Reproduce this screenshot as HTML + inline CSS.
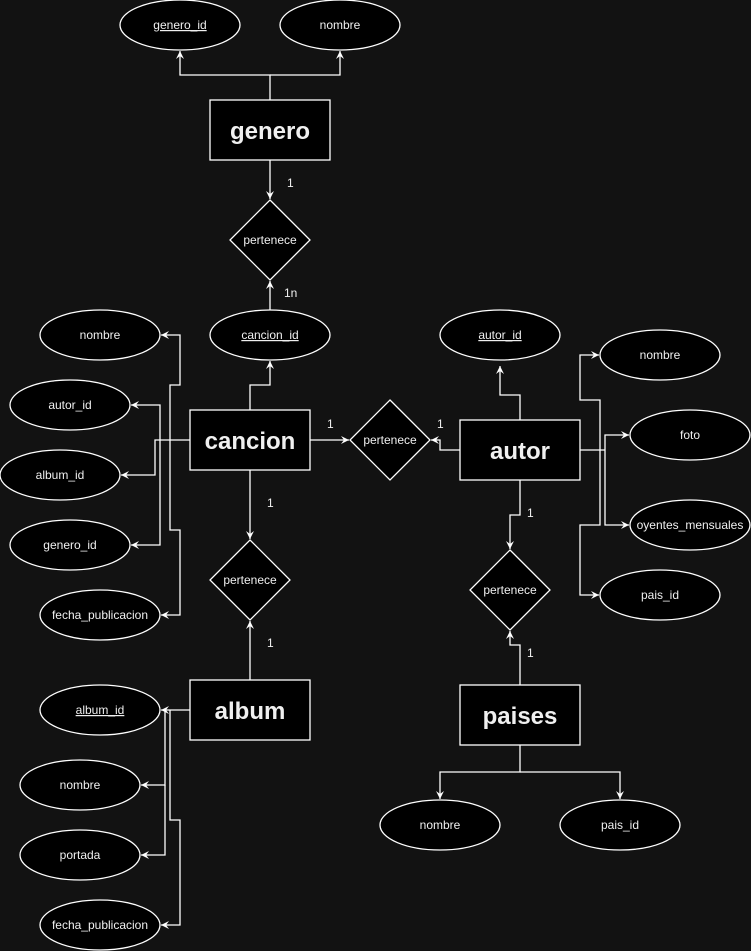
<!DOCTYPE html>
<html><head><meta charset="utf-8"><style>
html,body{margin:0;padding:0;background:#121212}
svg{display:block}
text{font-family:"Liberation Sans",sans-serif;fill:#f0f0f0}
</style></head><body>
<svg width="751" height="951" viewBox="0 0 751 951">
<defs><marker id="a" markerWidth="10" markerHeight="10" refX="8" refY="5" orient="auto" markerUnits="userSpaceOnUse"><path d="M0,1 L8,5 L0,9 L3,5 Z" fill="#fff"/></marker></defs>
<rect width="751" height="951" fill="#121212"/>
<g fill="none" stroke="#fff" stroke-width="1.3">
<path d="M270,100 V75 H180 V51" marker-end="url(#a)"/>
<path d="M270,75 H340 V51" marker-end="url(#a)"/>
<path d="M270,160 V199" marker-end="url(#a)"/>
<path d="M270,310 V281" marker-end="url(#a)"/>
<path d="M250,410 V385 H270 V361" marker-end="url(#a)"/>
<path d="M190,440 H155 V475 H121" marker-end="url(#a)"/>
<path d="M160,440 V405 H131" marker-end="url(#a)"/>
<path d="M160,440 V545 H131" marker-end="url(#a)"/>
<path d="M170,440 V385 H180 V335 H161" marker-end="url(#a)"/>
<path d="M170,440 V530 H180 V615 H161" marker-end="url(#a)"/>
<path d="M310,440 H349" marker-end="url(#a)"/>
<path d="M250,470 V539" marker-end="url(#a)"/>
<path d="M250,680 V621" marker-end="url(#a)"/>
<path d="M460,450 H440 V440 H431" marker-end="url(#a)"/>
<path d="M520,420 V395 H500 V366" marker-end="url(#a)"/>
<path d="M580,450 H605"/>
<path d="M600,450 V400 H580 V355 H599" marker-end="url(#a)"/>
<path d="M600,450 V525 H580 V595 H599" marker-end="url(#a)"/>
<path d="M605,450 V435 H629" marker-end="url(#a)"/>
<path d="M605,450 V525 H629" marker-end="url(#a)"/>
<path d="M520,480 V515 H510 V549" marker-end="url(#a)"/>
<path d="M520,685 V645 H510 V631" marker-end="url(#a)"/>
<path d="M520,745 V772 H440 V799" marker-end="url(#a)"/>
<path d="M520,772 H620 V799" marker-end="url(#a)"/>
<path d="M190,710 H161" marker-end="url(#a)"/>
<path d="M165,710 V785 H141" marker-end="url(#a)"/>
<path d="M165,785 V855 H141" marker-end="url(#a)"/>
<path d="M170,710 V820 H180 V925 H161" marker-end="url(#a)"/>
</g>
<g font-size="12" fill="#ddd">
<text x="287" y="187">1</text><text x="284" y="297">1n</text>
<text x="327" y="428">1</text><text x="437" y="428">1</text>
<text x="267" y="507">1</text><text x="267" y="647">1</text>
<text x="527" y="517">1</text><text x="527" y="657">1</text>
</g>
<g stroke="#fff" stroke-width="1.3" fill="#000">
<rect x="210" y="100" width="120" height="60"/>
<rect x="190" y="410" width="120" height="60"/>
<rect x="190" y="680" width="120" height="60"/>
<rect x="460" y="420" width="120" height="60"/>
<rect x="460" y="685" width="120" height="60"/>
<path d="M270,200 L310,240 L270,280 L230,240 Z"/>
<path d="M390,400 L430,440 L390,480 L350,440 Z"/>
<path d="M250,540 L290,580 L250,620 L210,580 Z"/>
<path d="M510,550 L550,590 L510,630 L470,590 Z"/>
<ellipse cx="180" cy="25" rx="60" ry="25"/><ellipse cx="340" cy="25" rx="60" ry="25"/>
<ellipse cx="270" cy="335" rx="60" ry="25"/>
<ellipse cx="100" cy="335" rx="60" ry="25"/><ellipse cx="70" cy="405" rx="60" ry="25"/>
<ellipse cx="60" cy="475" rx="60" ry="25"/><ellipse cx="70" cy="545" rx="60" ry="25"/>
<ellipse cx="100" cy="615" rx="60" ry="25"/>
<ellipse cx="100" cy="710" rx="60" ry="25"/><ellipse cx="80" cy="785" rx="60" ry="25"/>
<ellipse cx="80" cy="855" rx="60" ry="25"/><ellipse cx="100" cy="925" rx="60" ry="25"/>
<ellipse cx="500" cy="335" rx="60" ry="25"/><ellipse cx="660" cy="355" rx="60" ry="25"/>
<ellipse cx="690" cy="435" rx="60" ry="25"/><ellipse cx="690" cy="525" rx="60" ry="25"/>
<ellipse cx="660" cy="595" rx="60" ry="25"/>
<ellipse cx="440" cy="825" rx="60" ry="25"/><ellipse cx="620" cy="825" rx="60" ry="25"/>
</g>
<g font-size="24" font-weight="bold" text-anchor="middle">
<text x="270" y="139">genero</text><text x="250" y="449">cancion</text>
<text x="250" y="719">album</text><text x="520" y="459">autor</text><text x="520" y="724">paises</text>
</g>
<g font-size="12" text-anchor="middle">
<text x="270" y="244">pertenece</text><text x="390" y="444">pertenece</text>
<text x="250" y="584">pertenece</text><text x="510" y="594">pertenece</text>
<text x="180" y="29" text-decoration="underline">genero_id</text><text x="340" y="29">nombre</text>
<text x="270" y="339" text-decoration="underline">cancion_id</text>
<text x="100" y="339">nombre</text><text x="70" y="409">autor_id</text>
<text x="60" y="479">album_id</text><text x="70" y="549">genero_id</text>
<text x="100" y="619">fecha_publicacion</text>
<text x="100" y="714" text-decoration="underline">album_id</text><text x="80" y="789">nombre</text>
<text x="80" y="859">portada</text><text x="100" y="929">fecha_publicacion</text>
<text x="500" y="339" text-decoration="underline">autor_id</text><text x="660" y="359">nombre</text>
<text x="690" y="439">foto</text><text x="690" y="529">oyentes_mensuales</text>
<text x="660" y="599">pais_id</text>
<text x="440" y="829">nombre</text><text x="620" y="829">pais_id</text>
</g>
</svg>
</body></html>
